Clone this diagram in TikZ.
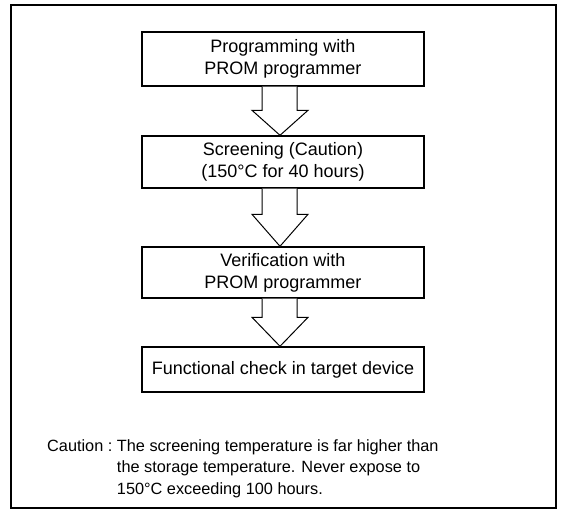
\documentclass[tikz,border=0pt]{standalone}
\usepackage{fontspec}
\setmainfont{Liberation Sans}
\usetikzlibrary{calc}
\begin{document}
\begin{tikzpicture}[x=1pt,y=-1pt,
  stepbox/.style={draw, line width=1.4pt, minimum width=282pt, align=center, inner sep=0pt,
     font=\fontsize{18pt}{22pt}\selectfont},
  hollow/.style={draw, line width=1pt, fill=white, line join=miter}]
\useasboundingbox (0,0) rectangle (565,512);
\draw[line width=2pt] (11,5) rectangle (556,508);
\node[stepbox, minimum height=54pt] (b1) at (283,59) {Programming with\\PROM programmer};
\node[stepbox, minimum height=52pt] (b2) at (283,162) {Screening (Caution)\\(150°C for 40 hours)};
\node[stepbox, minimum height=51pt] (b3) at (283,272.5) {Verification with\\PROM programmer};
\node[stepbox, minimum height=45pt] (b4) at (283,369.5) {Functional check in target device};
\foreach \a/\b/\h in {b1/b2/25, b2/b3/32, b3/b4/29}{
  \draw[hollow] ($(\a.south)+(-21,0)$) -- ($(\b.north)+(-21,-\h)$) -- ($(\b.north)+(-31,-\h)$)
     -- ($(\b.north)+(-3,0)$) -- ($(\b.north)+(25,-\h)$) -- ($(\b.north)+(14,-\h)$)
     -- ($(\a.south)+(14,0)$);
}
\node[anchor=north west, inner sep=0pt, font=\fontsize{16.3pt}{21.5pt}\selectfont] (caution) at (47,436)
 {\begin{tabular}{@{}l@{\ }l@{}}Caution :&The screening temperature is far higher than\\
  &the storage temperature. Never expose to\\ &150°C exceeding 100 hours.\end{tabular}};
\end{tikzpicture}
\end{document}
